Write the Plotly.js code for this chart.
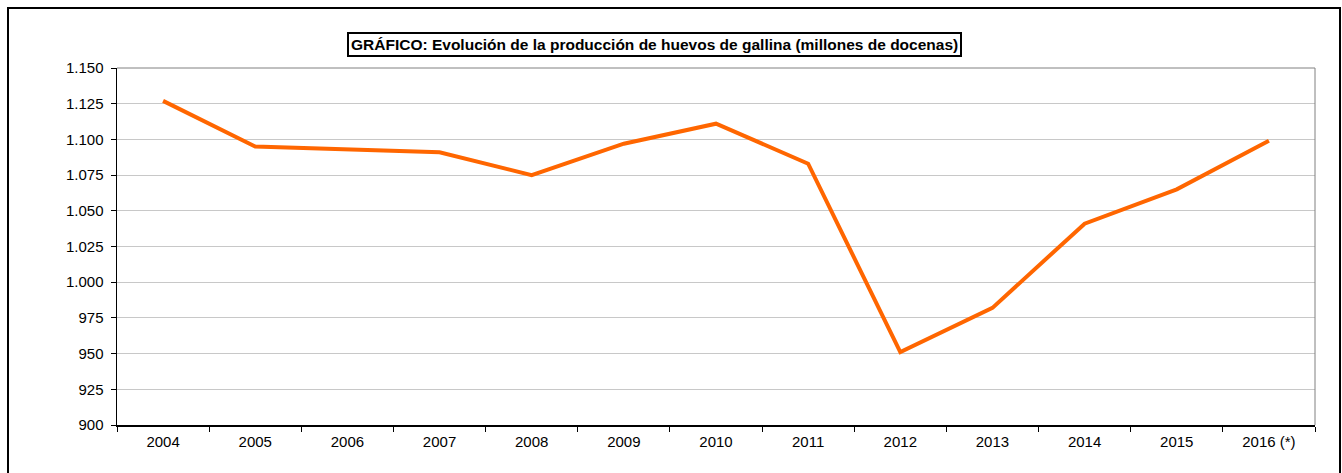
<!DOCTYPE html>
<html><head><meta charset="utf-8">
<script src="https://cdn.plot.ly/plotly-3.0.1.min.js"></script>
<style>
html,body{margin:0;padding:0;background:#fff;}
#wrap{position:relative;width:1342px;height:473px;overflow:hidden;}
#chart{position:absolute;left:0;top:0;width:1342px;height:473px;}
#frame{position:absolute;left:7px;top:7px;width:1330px;height:480px;border:2px solid #000;pointer-events:none;}
</style>
</head><body>
<div id="wrap"><div id="chart"></div><div id="frame"></div></div>
<script>
const years = ["2004","2005","2006","2007","2008","2009","2010","2011","2012","2013","2014","2015","2016 (*)"];
const production = [1127,1095,null,1091,1075,1097,1111,1083,951,982,1041,1065,1099];
const yTicks = [900,925,950,975,1000,1025,1050,1075,1100,1125,1150];
const titleText = "GRÁFICO: Evolución de la producción de huevos de gallina (millones de docenas)";

const trace = {
  x: years, y: production, type: 'scatter', mode: 'lines',
  connectgaps: true,
  line: {color: '#FF6600', width: 4}
};
const layout = {
  width: 1342, height: 473,
  margin: {l: 117, r: 27, t: 67.5, b: 48},
  paper_bgcolor: '#fff', plot_bgcolor: '#fff',
  separators: ',.',
  showlegend: false,
  font: {family: 'Liberation Sans, Arial, sans-serif', size: 15, color: '#000'},
  xaxis: {
    type: 'category', tickson: 'boundaries', ticks: 'outside', ticklen: 5,
    tickcolor: '#000', showline: true, linecolor: '#000', linewidth: 1.5,
    showgrid: false, tickfont: {size: 15}, range: [-0.5, 12.5], fixedrange: true,
    ticklabelstandoff: 2
  },
  yaxis: {
    range: [900, 1150], tickvals: yTicks, tickformat: ',d', ticks: 'outside', ticklen: 5,
    tickcolor: '#000', showline: true, linecolor: '#000', linewidth: 1.5,
    showgrid: true, gridcolor: '#c8c8c8', gridwidth: 1, zeroline: false,
    tickfont: {size: 15}, fixedrange: true, ticklabelstandoff: 4
  },
  shapes: [
    {type: 'line', xref: 'paper', yref: 'paper', x0: 0, x1: 1, y0: 1, y1: 1, line: {color: '#808080', width: 1}},
    {type: 'line', xref: 'paper', yref: 'paper', x0: 1, x1: 1, y0: 0, y1: 1, line: {color: '#808080', width: 1}}
  ],
  annotations: [{
    text: '<b>' + titleText + '</b>', xref: 'paper', yref: 'paper',
    x: (654 - 117) / (1342 - 117 - 27), y: 1, yshift: 24, xanchor: 'center', yanchor: 'middle',
    showarrow: false, bordercolor: '#000', borderwidth: 2, borderpad: 2, bgcolor: '#fff',
    font: {size: 15.5, color: '#000', family: 'Liberation Sans, Arial, sans-serif'}
  }]
};
Plotly.newPlot('chart', [trace], layout, {displayModeBar: false, staticPlot: true});
</script>
</body></html>
